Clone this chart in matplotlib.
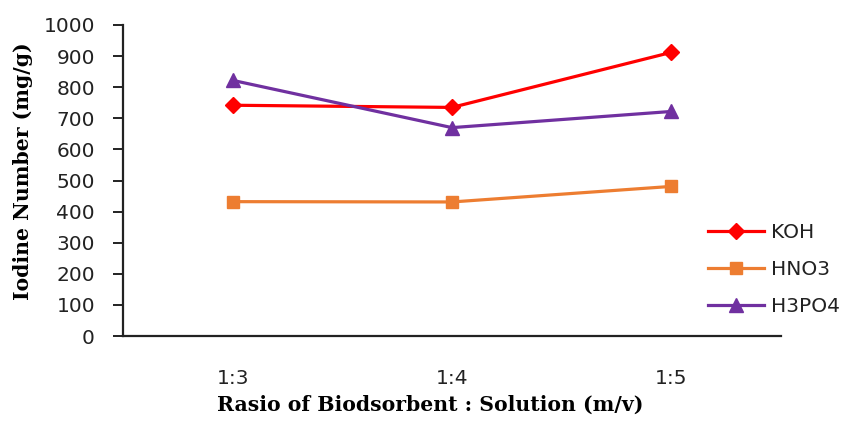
import matplotlib
matplotlib.use("Agg")
import matplotlib.pyplot as plt

ratios = ["1:3", "1:4", "1:5"]
koh = [742, 735, 912]
hno3 = [432, 431, 481]
h3po4 = [822, 670, 722]
yticks = [0, 100, 200, 300, 400, 500, 600, 700, 800, 900, 1000]

fig = plt.figure(figsize=(8.46, 4.24), dpi=100)
ax = fig.add_axes([123 / 846, 1 - 336 / 424, (781 - 123) / 846, (336 - 25) / 424])

x = list(range(len(ratios)))
ax.plot(x, koh, color="#FF0000", lw=2.3, marker="D", ms=8, label="KOH")
ax.plot(x, hno3, color="#ED7D31", lw=2.3, marker="s", ms=9, label="HNO3")
ax.plot(x, h3po4, color="#7030A0", lw=2.3, marker="^", ms=10, label="H3PO4")

ax.set_xlim(-0.5, len(ratios) - 0.5)
ax.set_ylim(0, 1000)
ax.set_xticks(x)
ax.set_xticklabels(ratios)
ax.set_yticks(yticks)

for side in ("top", "right"):
    ax.spines[side].set_visible(False)
for side in ("left", "bottom"):
    ax.spines[side].set_linewidth(1.6)
    ax.spines[side].set_color("#222222")

ax.tick_params(axis="y", direction="out", length=7.2, width=1.4, pad=13,
               labelsize=14.5, labelcolor="#222222", color="#222222")
ax.tick_params(axis="x", length=0, pad=24, labelsize=14.5, labelcolor="#222222")
for lab in ax.get_xticklabels() + ax.get_yticklabels():
    lab.set_family("DejaVu Sans")

ax.set_xlabel("Rasio of Biodsorbent : Solution (m/v)", family="DejaVu Serif",
              fontweight="bold", fontsize=14.7)
ax.xaxis.set_label_coords((430 - 123) / (781 - 123), -(395 - 336) / (336 - 25))
ax.set_ylabel("Iodine Number (mg/g)", family="DejaVu Serif",
              fontweight="bold", fontsize=14.7)
ax.yaxis.set_label_coords(-(123 - 33) / (781 - 123), (336 - 171) / (336 - 25))

leg = fig.legend(loc="upper left", bbox_to_anchor=(700 / 846, 1 - 215 / 424),
                 frameon=False, fontsize=14.5, handlelength=2.8,
                 handletextpad=0.35, labelspacing=0.9, borderaxespad=0)
for t in leg.get_texts():
    t.set_family("DejaVu Sans")
    t.set_color("#222222")

fig.savefig("out.png", dpi=100)
